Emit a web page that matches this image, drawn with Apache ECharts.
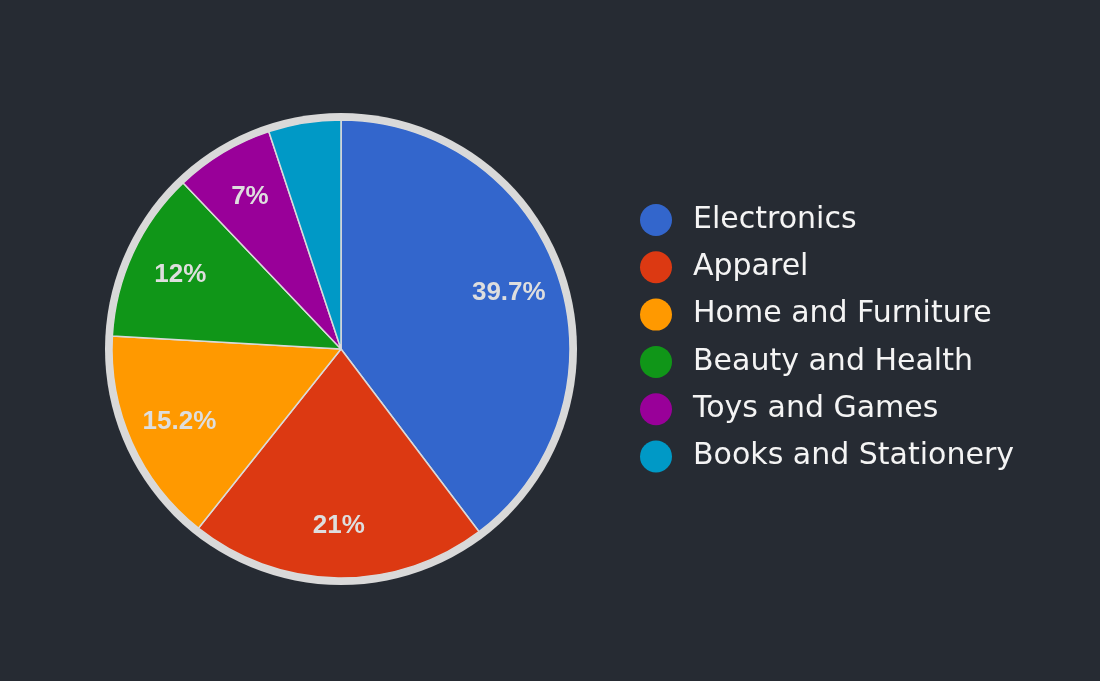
<!DOCTYPE html>
<html>
<head>
<meta charset="utf-8">
<script src="https://cdn.jsdelivr.net/npm/echarts@6/dist/echarts.min.js"></script>
<style>
html,body{margin:0;padding:0;background:#262b33;}
#chart{width:1100px;height:681px;}
</style>
</head>
<body>
<div id="chart"></div>
<script>
const categories = ['Electronics', 'Apparel', 'Home and Furniture', 'Beauty and Health', 'Toys and Games', 'Books and Stationery'];
const shares = [39.7, 21, 15.2, 12, 7, 5.1];
const colors = ['#3366cc', '#dc3912', '#ff9900', '#109618', '#990099', '#0099c6'];

const chart = echarts.init(document.getElementById('chart'), null, {renderer: 'canvas'});
const data = categories.map((c, i) => ({name: c, value: shares[i], itemStyle: {color: colors[i]}}));
const center = [341, 349];

chart.setOption({
  backgroundColor: '#262b33',
  animation: false,
  legend: {
    orient: 'vertical',
    left: 635,
    top: 199,
    icon: 'circle',
    itemWidth: 32,
    itemHeight: 32,
    itemGap: 15.3,
    data: categories,
    itemStyle: {borderWidth: 0},
    textStyle: {
      color: '#f4f4f4',
      fontFamily: 'DejaVu Sans',
      fontSize: 30,
      fontWeight: 'normal',
      lineHeight: 32,
      height: 32,
      padding: [0, 0, 0, 16]
    }
  },
  series: [
    {
      type: 'pie',
      silent: true,
      center: center,
      radius: [0, 236],
      startAngle: 90,
      label: {show: false},
      labelLine: {show: false},
      itemStyle: {color: '#d9d9d9'},
      data: [{name: 'ring', value: 1}],
      z: 1
    },
    {
      type: 'pie',
      center: center,
      radius: [0, 229],
      startAngle: 90,
      clockwise: true,
      percentPrecision: 1,
      data: data,
      label: {show: false},
      labelLine: {show: false},
      itemStyle: {borderColor: '#dadada', borderWidth: 1.5},
      z: 2
    },
    {
      type: 'pie',
      silent: true,
      center: center,
      radius: [119, 229],
      startAngle: 90,
      clockwise: true,
      percentPrecision: 1,
      minShowLabelAngle: 20,
      data: data.map(d => ({name: d.name, value: d.value})),
      itemStyle: {color: 'rgba(0,0,0,0)'},
      label: {
        show: true,
        position: 'inside',
        formatter: '{d}%',
        color: '#dedede',
        fontFamily: 'Liberation Sans, Arial, sans-serif',
        fontWeight: 'bold',
        fontSize: 26
      },
      labelLine: {show: false},
      z: 3
    }
  ]
});
</script>
</body>
</html>
